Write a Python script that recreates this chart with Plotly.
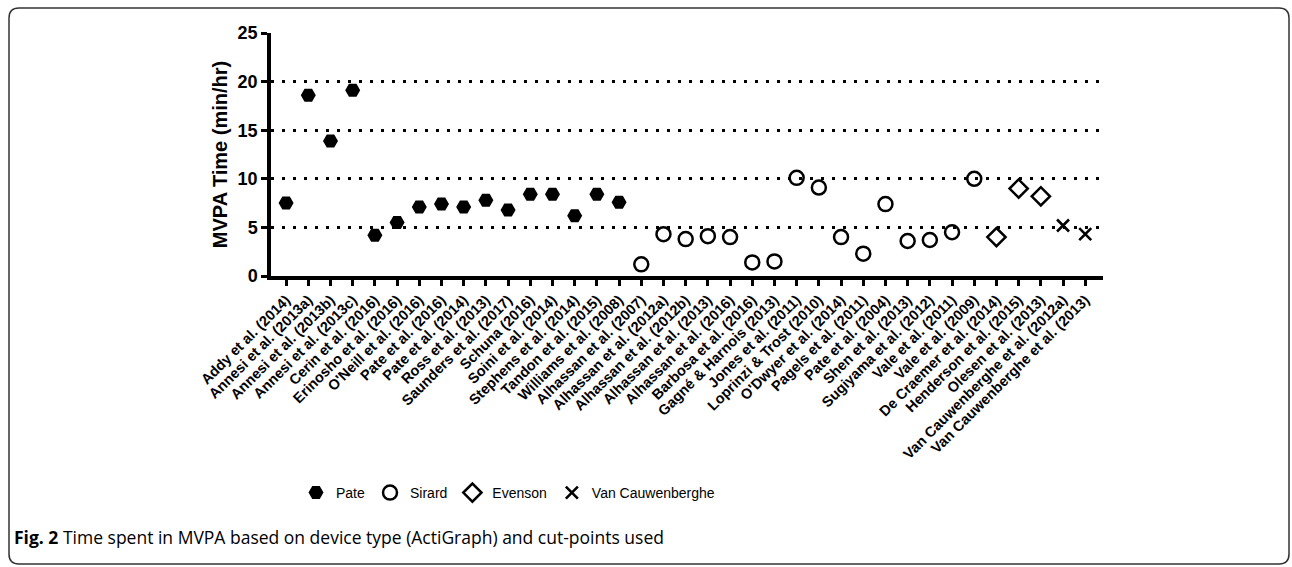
import plotly.graph_objects as go

W, H = 1292, 567
ML, MR, MT, MB = 271, 189, 33, 291

# ---------------- data ----------------
pate_studies = ["Addy et al. (2014)", "Annesi et al. (2013a)", "Annesi et al. (2013b)",
                "Annesi et al. (2013c)", "Cerin et al. (2016)", "Erinosho et al. (2016)",
                "O'Neill et al. (2016)", "Pate et al. (2016)", "Pate et al. (2014)",
                "Ross et al. (2013)", "Saunders et al. (2017)", "Schuna (2016)",
                "Soini et al. (2014)", "Stephens et al. (2014)", "Tandon et al. (2015)",
                "Williams et al. (2008)"]
pate_values = [7.5, 18.6, 13.9, 19.1, 4.2, 5.5, 7.1, 7.4, 7.1, 7.8, 6.8, 8.4, 8.4, 6.2, 8.4, 7.6]

sirard_studies = ["Alhassan et al. (2007)", "Alhassan et al. (2012a)", "Alhassan et al. (2012b)",
                  "Alhassan et al. (2013)", "Alhassan et al. (2016)", "Barbosa et al. (2016)",
                  "Gagné & Harnois (2013)", "Jones et al. (2011)", "Loprinzi & Trost (2010)",
                  "O'Dwyer et al. (2014)", "Pagels et al. (2011)", "Pate et al. (2004)",
                  "Shen et al. (2013)", "Sugiyama et al. (2012)", "Vale et al. (2011)",
                  "Vale et al. (2009)"]
sirard_values = [1.2, 4.3, 3.8, 4.1, 4.0, 1.4, 1.5, 10.1, 9.1, 4.0, 2.3, 7.4, 3.6, 3.7, 4.5, 10.0]

evenson_studies = ["De Craemer et al. (2014)", "Henderson et al. (2015)", "Olesen et al. (2013)"]
evenson_values = [4.0, 9.0, 8.2]

vc_studies = ["Van Cauwenberghe et al. (2012a)", "Van Cauwenberghe et al. (2013)"]
vc_values = [5.2, 4.3]

y_ticks = [0, 5, 10, 15, 20, 25]
y_title = "MVPA Time (min/hr)"
caption_bold = "Fig. 2"
caption_text = "Time spent in MVPA based on device type (ActiGraph) and cut-points used"

all_studies = pate_studies + sirard_studies + evenson_studies + vc_studies

# ---------------- helpers ----------------
PW = W - ML - MR
PH = H - MT - MB


def px_x(px):
    return (px - ML) / PW


def px_y(py):
    return (H - MB - py) / PH


FONT = "Liberation Sans, Arial, sans-serif"

fig = go.Figure()

series = [
    ("Pate", pate_studies, pate_values, dict(symbol="hexagon2", size=15, color="black",
                                             line=dict(width=0))),
    ("Sirard", sirard_studies, sirard_values, dict(symbol="circle-open", size=14, color="black",
                                                   line=dict(width=2.5, color="black"))),
    ("Evenson", evenson_studies, evenson_values, dict(symbol="diamond-open", size=14, color="black",
                                                      line=dict(width=2.5, color="black"))),
    ("Van Cauwenberghe", vc_studies, vc_values, dict(symbol="x-thin-open", size=12, color="black",
                                                     line=dict(width=2.6, color="black"))),
]
for name, xs, ys, mk in series:
    fig.add_trace(go.Scatter(x=xs, y=ys, mode="markers", name=name, marker=mk,
                             cliponaxis=False))

fig.update_layout(
    width=W, height=H,
    margin=dict(l=ML, r=MR, t=MT, b=MB, autoexpand=False),
    paper_bgcolor="white", plot_bgcolor="white",
    font=dict(family=FONT, color="black"),
    showlegend=True,
    legend=dict(orientation="h", x=px_x(296), xanchor="left", y=px_y(493), yanchor="middle",
                font=dict(family=FONT, size=14, color="black"), itemsizing="trace",
                bgcolor="rgba(0,0,0,0)"),
)

fig.update_xaxes(
    type="category", categoryorder="array", categoryarray=all_studies,
    range=[-0.68, len(all_studies) - 1 + 0.8],
    showline=True, linecolor="black", linewidth=3.5,
    ticks="outside", ticklen=6, tickwidth=3, tickcolor="black",
    tickangle=-45, tickfont=dict(family=FONT, size=14.5, color="black", weight="bold"),
    showgrid=False, zeroline=False, fixedrange=True,
)
fig.update_yaxes(
    range=[0, 25], tickvals=y_ticks,
    showline=True, linecolor="black", linewidth=3.5,
    ticks="outside", ticklen=6, tickwidth=3, tickcolor="black",
    tickfont=dict(family=FONT, size=18, color="black", weight="bold"),
    showgrid=True, gridcolor="black", gridwidth=3, griddash="3px,8px",
    zeroline=False, fixedrange=True,
    title=dict(text=y_title, font=dict(family=FONT, size=20, color="black", weight="bold"),
               standoff=6),
)

# caption
fig.add_annotation(
    xref="paper", yref="paper", x=px_x(12), y=px_y(537), xanchor="left", yanchor="middle",
    text=f"<b>{caption_bold}</b> {caption_text}", showarrow=False,
    font=dict(family="Open Sans, Noto Sans, sans-serif", size=17.5, color="black"),
)

# rounded figure border
x0, x1, y0, y1 = px_x(9), px_x(1289), px_y(8), px_y(564)
rx = 10 / PW
ry = 10 / PH
path = (f"M {x0+rx},{y0} L {x1-rx},{y0} Q {x1},{y0} {x1},{y0-ry} "
        f"L {x1},{y1+ry} Q {x1},{y1} {x1-rx},{y1} L {x0+rx},{y1} Q {x0},{y1} {x0},{y1+ry} "
        f"L {x0},{y0-ry} Q {x0},{y0} {x0+rx},{y0} Z")
fig.add_shape(type="path", xref="paper", yref="paper", path=path,
              line=dict(color="#333333", width=1.5), layer="below")

fig.write_html("out.html", config={"displayModeBar": False},
               post_script="document.body.style.margin='0';")
